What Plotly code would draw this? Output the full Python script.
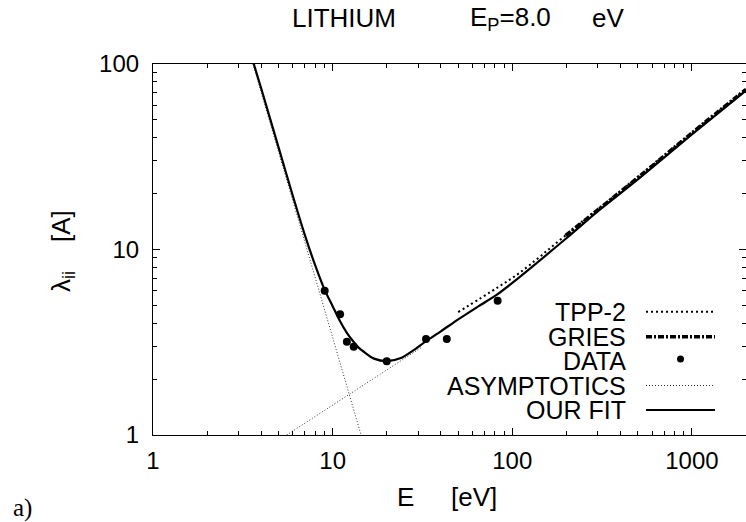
import plotly.graph_objects as go

# ---- data ----
fit_E = [3.64, 4.0, 5.0, 6.0, 7.0, 8.0, 9.0, 10.0, 11.0, 12.0, 13.0, 14.0, 15.0, 17.0, 20.0,
         24.0, 28.0, 33.0, 40.0, 50.0, 65.0, 83.0, 100.0, 200.0, 300.0, 500.0, 1000.0, 2000.0]
fit_L = [100.0, 74.0, 35.5, 19.5, 12.0, 8.2, 6.1, 4.95, 4.1, 3.55, 3.2, 2.95, 2.8, 2.58, 2.5,
         2.6, 2.85, 3.2, 3.62, 4.2, 4.95, 5.75, 6.6, 11.5, 16.1, 23.9, 41.7, 72.0]

tpp_E = [50.0, 83.0, 110.0, 200.0, 500.0, 1000.0, 2000.0]
tpp_L = [4.6, 6.25, 7.5, 12.0, 24.6, 42.5, 73.0]

gries_E = [198.0, 500.0, 1000.0, 2000.0]
gries_L = [11.9, 24.4, 42.5, 73.0]

data_E = [9.03, 11.0, 12.0, 13.1, 20.0, 33.1, 43.2, 82.9]
data_L = [6.0, 4.47, 3.18, 2.99, 2.50, 3.29, 3.29, 5.30]

asym_low_E = [3.6, 14.4]
asym_low_L = [100.0, 1.0]
asym_high_E = [5.55, 31.6]
asym_high_L = [1.0, 2.99]

x_ticks = [1, 10, 100, 1000]
y_ticks = [1, 10, 100]
x_minor = [2, 3, 4, 5, 6, 7, 8, 9, 20, 30, 40, 50, 60, 70, 80, 90,
           200, 300, 400, 500, 600, 700, 800, 900, 2000]
y_minor = [2, 3, 4, 5, 6, 7, 8, 9, 20, 30, 40, 50, 60, 70, 80, 90]

legend_labels = ["TPP-2", "GRIES", "DATA", "ASYMPTOTICS", "OUR FIT"]

# ---- layout geometry (pixels) ----
W, H = 746, 522
L, R, T, B = 153, 0, 64, 87
PW, PH = W - L - R, H - T - B


def px(x):
    return (x - L) / PW


def py(y):
    return (H - B - y) / PH


FONT = "Liberation Sans, Arial, sans-serif"
FS = 24
TS = 26

ASYM_LINE = dict(color="#333", width=1, dash="1px,2px")
TPP_LINE = dict(color="black", width=2, dash="2px,3px")
GRIES_LINE = dict(color="black", width=3.5, dash="6px,2px,2px,2px")
FIT_LINE = dict(color="black", width=2.2)

fig = go.Figure()
fig.add_trace(go.Scatter(x=asym_low_E, y=asym_low_L, mode="lines",
                         line=ASYM_LINE, showlegend=False))
fig.add_trace(go.Scatter(x=asym_high_E, y=asym_high_L, mode="lines",
                         line=ASYM_LINE, showlegend=False))
fig.add_trace(go.Scatter(x=tpp_E, y=tpp_L, mode="lines", line_shape="spline",
                         line=TPP_LINE, showlegend=False))
fig.add_trace(go.Scatter(x=gries_E, y=gries_L, mode="lines", line_shape="spline",
                         line=GRIES_LINE, showlegend=False))
fig.add_trace(go.Scatter(x=fit_E, y=fit_L, mode="lines", line_shape="spline",
                         line=dict(FIT_LINE, smoothing=0.8), showlegend=False))
fig.add_trace(go.Scatter(x=data_E, y=data_L, mode="markers",
                         marker=dict(color="black", size=8), showlegend=False))

axis_common = dict(
    type="log", showgrid=False, zeroline=False, showline=True, linecolor="black",
    linewidth=1.2, mirror="allticks", ticks="inside", ticklen=7, tickcolor="black",
    tickfont=dict(family=FONT, size=FS, color="black"), tickmode="array",
)
fig.update_xaxes(**axis_common, range=[0, 3.30103], tickvals=x_ticks,
                 ticktext=[str(v) for v in x_ticks], ticklabelstandoff=4,
                 minor=dict(tickmode="array", tickvals=x_minor, ticks="inside",
                            ticklen=4, tickcolor="black"))
fig.update_yaxes(**axis_common, range=[0, 2], tickvals=y_ticks,
                 ticktext=[str(v) for v in y_ticks], ticklabelstandoff=8,
                 minor=dict(tickmode="array", tickvals=y_minor, ticks="inside",
                            ticklen=4, tickcolor="black"))

ann = []


def text(x, y, s, xa="center", ya="middle", size=FS, family=FONT, angle=0):
    ann.append(dict(x=px(x), y=py(y), xref="paper", yref="paper", text=s, showarrow=False,
                    xanchor=xa, yanchor=ya, textangle=angle,
                    font=dict(family=family, size=size, color="black")))


# title
text(290, 18, "LITHIUM", xa="left", size=TS)
text(468, 18, "E<sub>P</sub>=8.0", xa="left", size=TS)
text(590, 18, "eV", xa="left", size=TS)
# axis titles
text(405, 497, "E", xa="center", size=TS)
text(449, 497, "[eV]", xa="left", size=TS)
text(62, 251, "λ<sub>ii</sub>    [A]", angle=-90, size=TS)
text(11, 508, "a)", xa="left", size=25, family="Liberation Serif, Times New Roman, serif")

# manual legend (text on the left, sample on the right)
rows_y = [311.7, 336.7, 361.0, 385.5, 410.0]
for lab, yy in zip(legend_labels, rows_y):
    text(628, yy, lab, xa="right", size=25)

shapes = []
styles = [TPP_LINE, GRIES_LINE, None, ASYM_LINE, FIT_LINE]
for st, yy in zip(styles, rows_y):
    if st is None:
        shapes.append(dict(type="circle", xref="paper", yref="paper",
                           x0=px(677), x1=px(684), y0=py(yy + 1.5), y1=py(yy - 5.5),
                           fillcolor="black", line=dict(width=0)))
    else:
        shapes.append(dict(type="line", xref="paper", yref="paper",
                           x0=px(646), x1=px(715), y0=py(yy), y1=py(yy), line=st))

fig.update_layout(width=W, height=H, margin=dict(l=L, r=R, t=T, b=B),
                  paper_bgcolor="white", plot_bgcolor="white",
                  annotations=ann, shapes=shapes, showlegend=False)

fig.write_html("out.html")
